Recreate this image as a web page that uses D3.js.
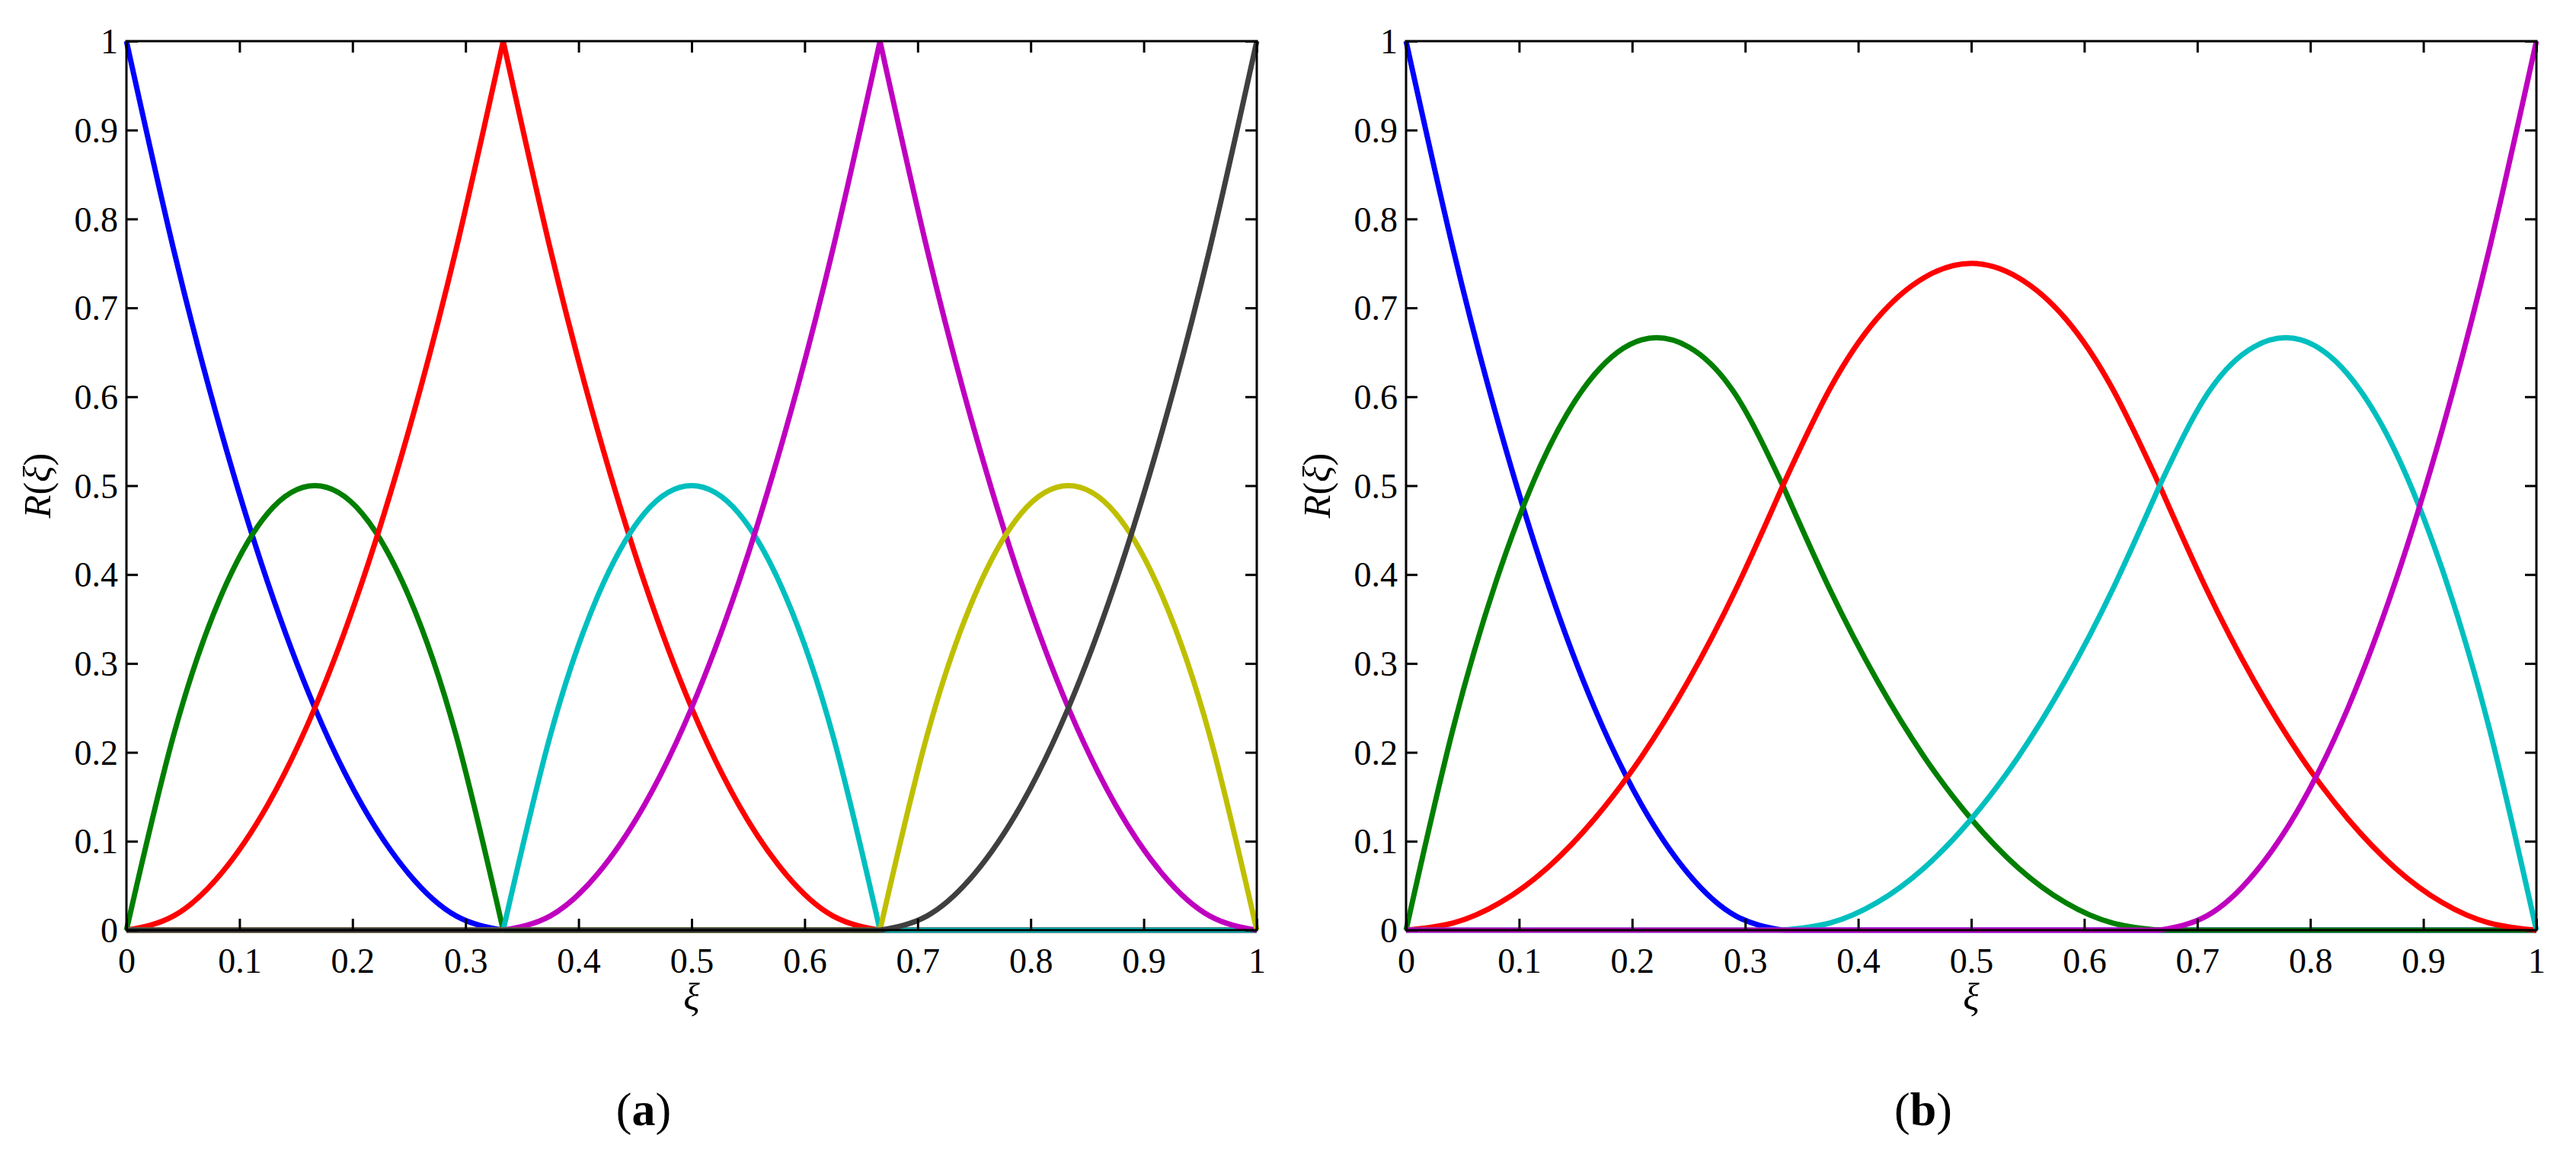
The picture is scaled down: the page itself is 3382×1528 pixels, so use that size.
<!DOCTYPE html>
<html lang="en">
<head>
<meta charset="UTF-8">
<title>Basis functions</title>
<script src="https://d3js.org/d3.v7.min.js"></script>
<style>
body { margin: 0; background: white; }
text { font-family: 'Liberation Serif', 'Times New Roman', serif; fill: black; }
</style>
</head>
<body>
<svg width="3382" height="1528"></svg>
<script>

// samples at xi = k/24, k = 0..24
var xiValues = d3.range(25).map(function(k) { return k / 24; });
var knotIndex = [0, 8, 16, 24];
var tickValues = [0, 0.1, 0.2, 0.3, 0.4, 0.5, 0.6, 0.7, 0.8, 0.9, 1];
var colors = ["#0000ff", "#007f00", "#ff0000", "#00bfbf", "#bf00bf", "#bfbf00", "#3f3f3f"];

var z8 = [0, 0, 0, 0, 0, 0, 0, 0];

// panel (a)
var aBlue    = [1, .766, .563, .391, .25, .141, .063, .016, 0].concat(z8, z8);
var aGreen   = [0, .219, .375, .469, .5, .469, .375, .219, 0].concat(z8, z8);
var aRed     = [0, .016, .063, .141, .25, .391, .563, .766, 1, .766, .563, .391, .25, .141, .063, .016, 0].concat(z8);
var aCyan    = z8.concat([0, .219, .375, .469, .5, .469, .375, .219, 0], z8);
var aMagenta = z8.concat([0, .016, .063, .141, .25, .391, .563, .766, 1, .766, .563, .391, .25, .141, .063, .016, 0]);
var aYellow  = z8.concat(z8, [0, .219, .375, .469, .5, .469, .375, .219, 0]);
var aGray    = z8.concat(z8, [0, .016, .063, .141, .25, .391, .563, .766, 1]);

// panel (b)
var bBlue    = [1, .766, .563, .391, .25, .141, .063, .016, 0].concat(z8, z8);
var bGreen   = [0, .227, .406, .539, .625, .664, .656, .602, .5, .383, .281, .195, .125, .070, .031, .008, 0].concat(z8);
var bRed     = [0, .008, .031, .070, .125, .195, .281, .383, .5, .609, .688, .734, .75, .734, .688, .609, .5, .383, .281, .195, .125, .070, .031, .008, 0];
var bCyan    = z8.concat([0, .008, .031, .070, .125, .195, .281, .383, .5, .602, .656, .664, .625, .539, .406, .227, 0]);
var bMagenta = z8.concat(z8, [0, .016, .063, .141, .25, .391, .563, .766, 1]);

var panels = [
    {left: 166, right: 1650, label: "a", series: [aBlue, aGreen, aRed, aCyan, aMagenta, aYellow, aGray]},
    {left: 1846, right: 3330, label: "b", series: [bBlue, bGreen, bRed, bCyan, bMagenta]}
];
var plotTop = 54, plotBottom = 1221;

var svg = d3.select("svg");

panels.forEach(function(p) {
    var x = d3.scaleLinear().domain([0, 1]).range([p.left, p.right]);
    var y = d3.scaleLinear().domain([0, 1]).range([plotBottom, plotTop]);
    var g = svg.append("g");

    var line = d3.line()
        .x(function(d) { return x(d[0]); })
        .y(function(d) { return y(d[1]); })
        .curve(d3.curveNatural);

    p.series.forEach(function(vals, i) {
        // draw piecewise between knots so the kinks stay sharp
        for (var s = 0; s < 3; s++) {
            var pts = [];
            for (var k = knotIndex[s]; k <= knotIndex[s + 1]; k++) pts.push([xiValues[k], vals[k]]);
            g.append("path")
                .attr("d", line(pts))
                .attr("fill", "none")
                .attr("stroke", colors[i])
                .attr("stroke-width", 7)
                .attr("stroke-linecap", "butt");
        }
    });

    // box
    g.append("rect")
        .attr("x", p.left).attr("y", plotTop)
        .attr("width", p.right - p.left).attr("height", plotBottom - plotTop)
        .attr("fill", "none").attr("stroke", "black").attr("stroke-width", 3);

    var xAxis = d3.axisBottom(x).tickValues(tickValues).tickSize(15).tickFormat(d3.format("~g"));
    var yAxis = d3.axisLeft(y).tickValues(tickValues).tickSize(15).tickFormat(d3.format("~g"));

    var gx = g.append("g").attr("transform", "translate(0," + plotBottom + ")").call(xAxis);
    gx.selectAll(".tick line").attr("y2", -15).attr("stroke-width", 3);
    gx.selectAll(".tick text").attr("y", 56).attr("dy", 0).style("font-size", "46px");
    gx.select(".domain").remove();

    var gxt = g.append("g").attr("transform", "translate(0," + plotTop + ")").call(d3.axisTop(x).tickValues(tickValues).tickSize(15).tickFormat(""));
    gxt.selectAll(".tick line").attr("y2", 15).attr("stroke-width", 3);
    gxt.select(".domain").remove();

    var gy = g.append("g").attr("transform", "translate(" + p.left + ",0)").call(yAxis);
    gy.selectAll(".tick line").attr("x2", 15).attr("stroke-width", 3);
    gy.selectAll(".tick text").attr("x", -11).attr("dy", "0.34em").style("font-size", "46px");
    gy.select(".domain").remove();

    var gyr = g.append("g").attr("transform", "translate(" + p.right + ",0)").call(d3.axisRight(y).tickValues(tickValues).tickSize(15).tickFormat(""));
    gyr.selectAll(".tick line").attr("x2", -15).attr("stroke-width", 3);
    gyr.select(".domain").remove();

    g.append("text")
        .attr("x", (p.left + p.right) / 2).attr("y", 1326)
        .attr("text-anchor", "middle").style("font-size", "50px").style("font-style", "italic")
        .text("ξ");

    g.append("text")
        .attr("transform", "translate(" + (p.left - 100) + "," + ((plotTop + plotBottom) / 2) + ") rotate(-90)")
        .attr("text-anchor", "middle").style("font-size", "50px")
        .html('<tspan font-style="italic">R</tspan>(<tspan font-style="italic">ξ</tspan>)');

    g.append("text")
        .attr("x", (p.left + p.right) / 2 - 63).attr("y", 1477)
        .attr("text-anchor", "middle").style("font-size", "62px")
        .html('(<tspan font-weight="bold">' + p.label + '</tspan>)');
});

</script>
</body>
</html>
